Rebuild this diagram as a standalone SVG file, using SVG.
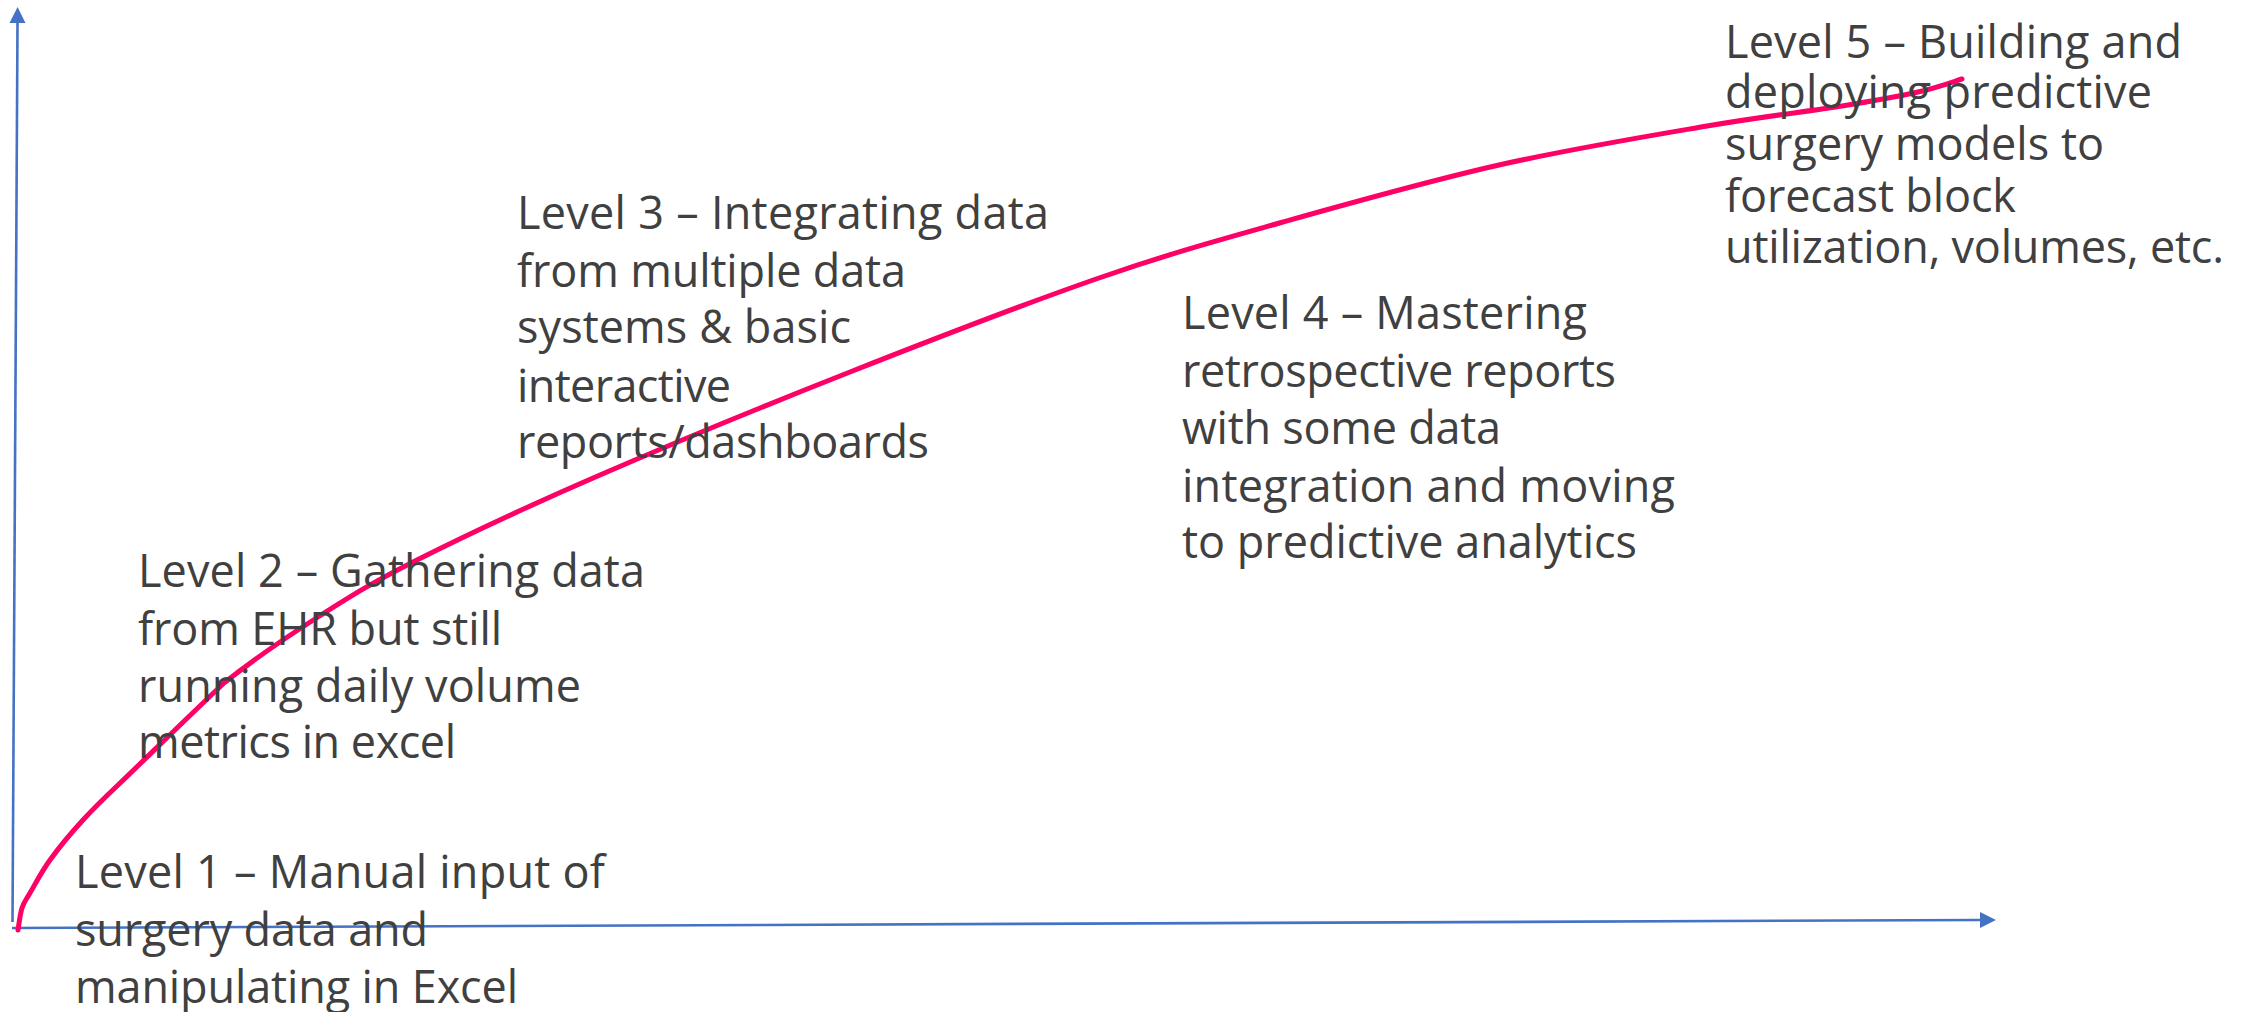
<svg xmlns="http://www.w3.org/2000/svg" width="2256" height="1012" viewBox="0 0 2256 1012">
<style>
.lbl{font-family:"Open Sans","Noto Sans","Liberation Sans",sans-serif;font-size:45px;fill:#404040}
.axis{stroke:#4472C4;stroke-width:2.6;fill:none}
.curve{stroke:#FF0066;stroke-width:5;fill:none;stroke-linecap:round;stroke-linejoin:round}
</style>
<defs>
<marker id="arr" markerUnits="userSpaceOnUse" markerWidth="17" markerHeight="17" refX="0" refY="8" orient="auto" viewBox="0 0 17 16">
<path d="M0,0 L16,8 L0,16 Z" fill="#4472C4"/>
</marker>
</defs>
<rect width="2256" height="1012" fill="#ffffff"/>
<g id="connectors">
<line id="y-axis" class="axis" x1="12.5" y1="922" x2="17.5" y2="23" marker-end="url(#arr)"/>
<line id="x-axis" class="axis" x1="12" y1="928" x2="1980" y2="920" marker-end="url(#arr)"/>
<path id="maturity-curve" class="curve" d="M18,930 C18.7,926.3 20,914.2 22,908 C24,901.8 25.3,901 30,893 C34.7,885 41.2,872.2 50,860 C58.8,847.8 71.8,832.2 83,820 C94.2,807.8 99,803 117,786 C135,769 190,715 224,683 C249.8,662.5 285.8,637.5 318,617 C350.2,596.5 370,583.7 417,560 C464,536.3 527.8,506.3 600,475 C672.2,443.7 766.8,404.8 850,372 C933.2,339.2 1026.8,303 1099,278 C1171.2,253 1216.3,240.8 1283,222 C1349.7,203.2 1428.3,181 1499,165 C1569.7,149 1649.8,135.8 1707,126 C1764.2,116.2 1806.8,111.7 1842,106 C1877.2,100.3 1898,96.5 1918,92 C1938,87.5 1954.7,81.2 1962,79"/>
</g>
<g id="level1">
<text class="lbl" x="75" y="888" textLength="530">Level 1 – Manual input of</text>
<text class="lbl" x="75" y="946" textLength="353">surgery data and</text>
<text class="lbl" x="75" y="1003" textLength="443">manipulating in Excel</text>
</g>
<g id="level2">
<text class="lbl" x="138" y="587" textLength="507">Level 2 – Gathering data</text>
<text class="lbl" x="138" y="645" textLength="364">from EHR but still</text>
<text class="lbl" x="138" y="702" textLength="443">running daily volume</text>
<text class="lbl" x="138" y="758" textLength="318">metrics in excel</text>
</g>
<g id="level3">
<text class="lbl" x="517" y="229" textLength="532">Level 3 – Integrating data</text>
<text class="lbl" x="517" y="287" textLength="389">from multiple data</text>
<text class="lbl" x="517" y="343" textLength="334">systems &amp; basic</text>
<text class="lbl" x="517" y="402" textLength="214">interactive</text>
<text class="lbl" x="517" y="458" textLength="412">reports/dashboards</text>
</g>
<g id="level4">
<text class="lbl" x="1182" y="329" textLength="405">Level 4 – Mastering</text>
<text class="lbl" x="1182" y="387" textLength="434">retrospective reports</text>
<text class="lbl" x="1182" y="444" textLength="319">with some data</text>
<text class="lbl" x="1182" y="502" textLength="493">integration and moving</text>
<text class="lbl" x="1182" y="558" textLength="455">to predictive analytics</text>
</g>
<g id="level5">
<text class="lbl" x="1725" y="58" textLength="457">Level 5 – Building and</text>
<text class="lbl" x="1725" y="108" textLength="427">deploying predictive</text>
<text class="lbl" x="1725" y="160" textLength="379">surgery models to</text>
<text class="lbl" x="1725" y="212" textLength="291">forecast block</text>
<text class="lbl" x="1725" y="263" textLength="499">utilization, volumes, etc.</text>
</g>
</svg>
